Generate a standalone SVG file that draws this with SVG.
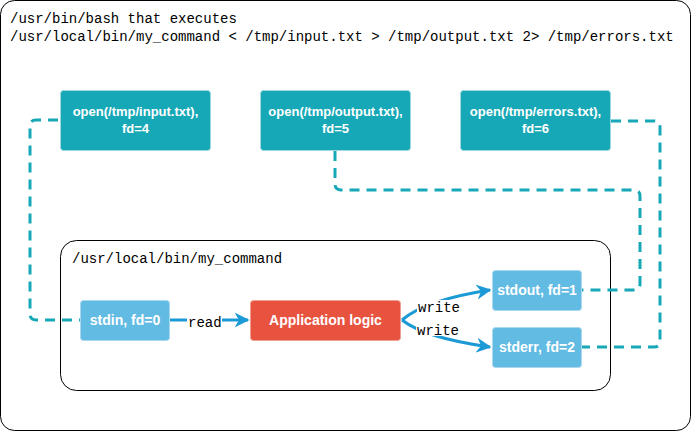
<svg xmlns="http://www.w3.org/2000/svg" width="691" height="431" viewBox="0 0 691 431">
<defs>
<style>
.frame{fill:#fff;stroke:#000;stroke-width:1}
.mono{font-family:"Liberation Mono","DejaVu Sans Mono",monospace;font-size:14px;fill:#000}
.open rect{fill:#16a8b6;stroke:#9fd8de;stroke-width:1}
.fd rect{fill:#62bbe3;stroke:#a9d8ef;stroke-width:1}
.app rect{fill:#e7533f;stroke:#f0a093;stroke-width:1}
.lbl{font-family:"Liberation Sans",Arial,sans-serif;font-weight:bold;font-size:13px;fill:#fff;text-anchor:middle}
.big{font-size:14px}
.dash{fill:none;stroke:#16a8b6;stroke-width:3;stroke-dasharray:10 7}
.flow{fill:none;stroke:#1b9ad6;stroke-width:3}
.tag{font-family:"Liberation Mono","DejaVu Sans Mono",monospace;font-size:14px;fill:#000}
</style>
<marker id="ah" viewBox="0 0 10 10" refX="9" refY="5" markerWidth="5" markerHeight="5" orient="auto" markerUnits="strokeWidth">
<path d="M0,0 L10,5 L0,10 L3,5 Z" fill="#1b9ad6"/>
</marker>
</defs>
<rect class="frame" x="0.5" y="0.5" width="690" height="430" rx="14"/>
<text class="mono" x="10" y="23">/usr/bin/bash that executes</text>
<text class="mono" x="10" y="41">/usr/local/bin/my_command &lt; /tmp/input.txt &gt; /tmp/output.txt 2&gt; /tmp/errors.txt</text>
<rect class="frame" x="60.5" y="240.5" width="550" height="150" rx="16"/>
<text class="mono" x="72" y="263">/usr/local/bin/my_command</text>
<g id="connectors">
<path class="dash" d="M58,120 H36 Q30,120 30,126 V314 Q30,320 36,320 H80"/>
<path class="dash" d="M335,151 V184 Q335,190 341,190 H634 Q640,190 640,196 V284 Q640,290 634,290 H582"/>
<path class="dash" d="M611,121 H654 Q660,121 660,127 V341 Q660,347 654,347 H582"/>
<path class="flow" d="M170,320 H248" marker-end="url(#ah)"/>
<path class="flow" d="M402,320 Q425,300 490,290" marker-end="url(#ah)"/>
<path class="flow" d="M402,320 Q425,338 490,347" marker-end="url(#ah)"/>
<rect x="187" y="313" width="35" height="14" fill="#fff"/>
<text class="tag" x="188" y="327">read</text>
<rect x="417" y="300" width="44" height="13" fill="#fff"/>
<text class="tag" x="418" y="312">write</text>
<rect x="416" y="324" width="44" height="12" fill="#fff"/>
<text class="tag" x="417" y="335">write</text>
</g>
<g id="open-input" class="open"><rect x="60.5" y="90.5" width="150" height="60" rx="3"/><text class="lbl" x="135.5" y="116">open(/tmp/input.txt),</text><text class="lbl" x="135.5" y="133">fd=4</text></g>
<g id="open-output" class="open"><rect x="260.5" y="90.5" width="150" height="60" rx="3"/><text class="lbl" x="335.5" y="116">open(/tmp/output.txt),</text><text class="lbl" x="335.5" y="133">fd=5</text></g>
<g id="open-errors" class="open"><rect x="460.5" y="90.5" width="150" height="60" rx="3"/><text class="lbl" x="535.5" y="116">open(/tmp/errors.txt),</text><text class="lbl" x="535.5" y="133">fd=6</text></g>
<g id="stdin" class="fd"><rect x="80.5" y="300.5" width="89" height="40" rx="3"/><text class="lbl big" x="125" y="325">stdin, fd=0</text></g>
<g id="app" class="app"><rect x="250.5" y="300.5" width="150" height="40" rx="3"/><text class="lbl big" x="325.5" y="325">Application logic</text></g>
<g id="stdout" class="fd"><rect x="492.5" y="270.5" width="89" height="40" rx="3"/><text class="lbl big" x="537" y="295">stdout, fd=1</text></g>
<g id="stderr" class="fd"><rect x="492.5" y="327.5" width="89" height="40" rx="3"/><text class="lbl big" x="537" y="352">stderr, fd=2</text></g>
</svg>
